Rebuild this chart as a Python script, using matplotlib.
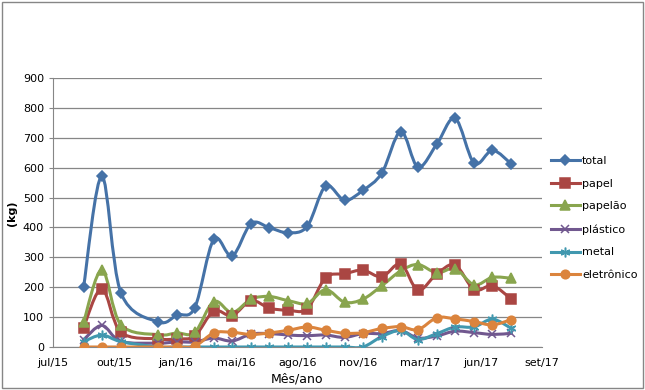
import numpy as np
import pandas as pd
import matplotlib
matplotlib.use("Agg")
import matplotlib.pyplot as plt
import matplotlib.dates as mdates
from matplotlib.path import Path
from matplotlib.patches import PathPatch, Rectangle
from matplotlib.lines import Line2D

# monthly collection (kg); dez/15 has no record
months = ['2015-09', '2015-10', '2015-11',
          '2016-01', '2016-02', '2016-03', '2016-04', '2016-05', '2016-06',
          '2016-07', '2016-08', '2016-09', '2016-10', '2016-11', '2016-12',
          '2017-01', '2017-02', '2017-03', '2017-04', '2017-05', '2017-06',
          '2017-07', '2017-08']

total = [200, 571, 182, 84, 107, 132, 360, 304, 413, 399, 382, 404,
         538, 491, 524, 582, 721, 602, 679, 765, 615, 658, 612]
papel = [65, 195, 50, 27, 27, 37, 120, 105, 155, 130, 123, 128,
         232, 245, 257, 235, 278, 190, 245, 274, 192, 205, 160]
papelao = [82, 258, 75, 41, 47, 49, 152, 115, 160, 169, 155, 146,
           192, 150, 160, 205, 255, 276, 248, 262, 208, 233, 230]
plastico = [24, 72, 19, 13, 17, 17, 30, 20, 43, 45, 40, 38,
            40, 32, 45, 45, 55, 30, 37, 53, 48, 42, 46]
metal = [18, 40, 18, 0, 0, 0, 0, 0, 0, 0, 0, 0,
         0, 0, 0, 35, 55, 25, 45, 67, 67, 93, 62]
eletronico = [0, 0, 0, 0, 0, 3, 47, 49, 42, 47, 56, 67,
              56, 46, 48, 62, 68, 58, 98, 94, 85, 74, 92]

labels = ['total', 'papel', 'papelão', 'plástico', 'metal', 'eletrônico']
tick_labels = ['jul/15', 'out/15', 'jan/16', 'mai/16', 'ago/16',
               'nov/16', 'mar/17', 'jun/17', 'set/17']

colors = ['#4572A7', '#AA4643', '#89A54E', '#71588F', '#4198AF', '#DB843D']
markers = ['D', 's', '^', 'x', (6, 2, 0), 'o']
msizes = [5.5, 6.5, 6.5, 6, 7, 6.2]

x = mdates.date2num(pd.to_datetime(months))
series = [total, papel, papelao, plastico, metal, eletronico]


def smooth_path(xs, ys):
    # Excel-like smoothed line: cubic bezier with catmull-rom control points
    pts = np.column_stack([xs, ys]).astype(float)
    ext = np.vstack([pts[0], pts, pts[-1]])
    verts = [pts[0]]
    codes = [Path.MOVETO]
    for i in range(len(pts) - 1):
        p0, p1, p2, p3 = ext[i], ext[i + 1], ext[i + 2], ext[i + 3]
        verts += [p1 + (p2 - p0) / 6, p2 - (p3 - p1) / 6, p2]
        codes += [Path.CURVE4] * 3
    return Path(verts, codes)


fig = plt.figure(figsize=(6.45, 3.9), dpi=100)
ax = fig.add_axes([53 / 645, 1 - 347 / 390, (542 - 53) / 645, (347 - 78) / 390])

x0 = mdates.date2num(pd.Timestamp('2015-07-13'))
x1 = x0 + 800
ax.set_xlim(x0, x1)
ax.set_ylim(0, 900)
ax.set_yticks(np.arange(0, 901, 100))
ax.set_xticks(np.linspace(x0, x1, len(tick_labels)))
ax.set_xticklabels(tick_labels)

ax.grid(axis='y', color='#868686', lw=0.9)
ax.set_axisbelow(True)
for s in ['top', 'right']:
    ax.spines[s].set_visible(False)
for s in ['left', 'bottom']:
    ax.spines[s].set_color('#868686')
ax.tick_params(colors='#868686', labelcolor='black', labelsize=8, length=3)
ax.tick_params(axis='x', length=0, pad=8)

handles = []
for ys, c, m, ms, lab in zip(series, colors, markers, msizes, labels):
    ax.add_patch(PathPatch(smooth_path(x, ys), fill=False, edgecolor=c,
                           lw=2.2, capstyle='round', joinstyle='round', zorder=3))
    ax.plot(x, ys, linestyle='none', marker=m, ms=ms, color=c,
            mec=c, mew=1.1, zorder=4)
    handles.append(Line2D([], [], color=c, lw=2.2, marker=m, ms=ms, mec=c, mew=1.1))

ax.set_xlabel('Mês/ano', fontsize=9, labelpad=3)
fig.text(12 / 645, 1 - 213 / 390, '(kg)', rotation=90, fontsize=8,
         fontweight='bold', ha='center', va='center')

fig.legend(handles, labels, loc='center left', bbox_to_anchor=(551 / 645, 1 - 218 / 390),
           frameon=False, fontsize=8, handlelength=2.6, handletextpad=0.2,
           labelspacing=1.15, borderpad=0, borderaxespad=0)

fig.patches.append(Rectangle((0.003, 0.004), 0.994, 0.992, transform=fig.transFigure,
                             fill=False, edgecolor='#868686', lw=1))

fig.savefig('out.png', dpi=100)
